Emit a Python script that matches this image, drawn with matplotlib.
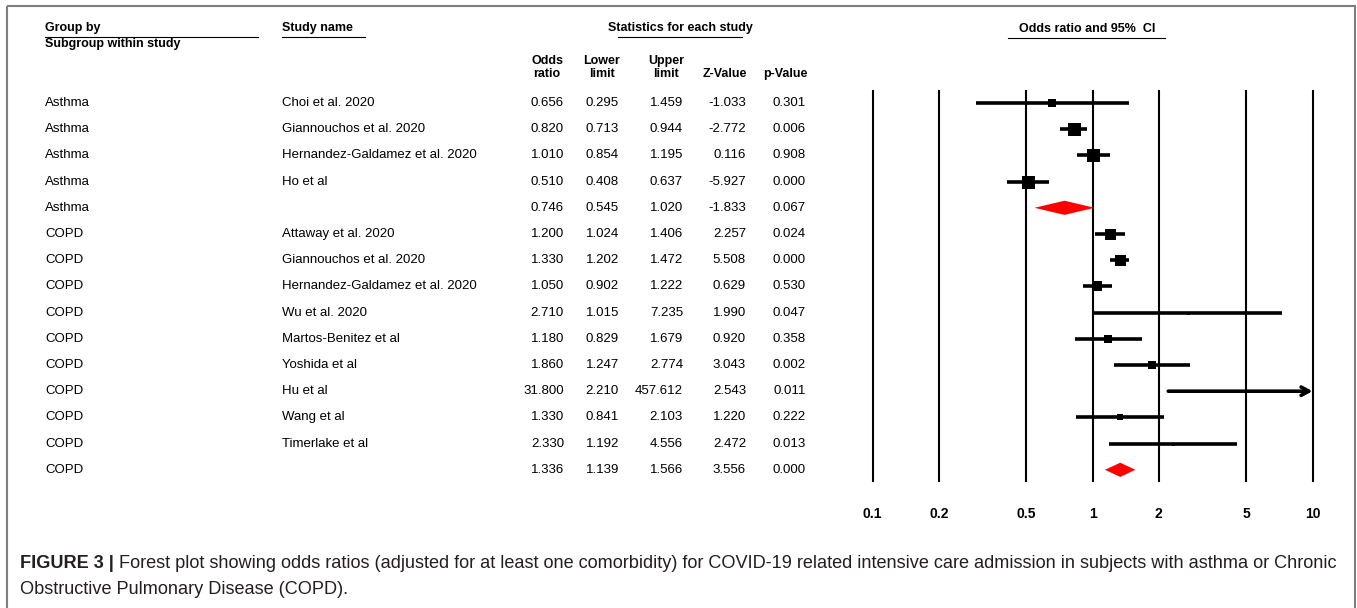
import matplotlib
matplotlib.use('Agg')
import matplotlib.pyplot as plt
from matplotlib.patches import Polygon, Rectangle
from matplotlib.transforms import blended_transform_factory
from matplotlib.ticker import NullLocator

plt.rcParams['font.family'] = ['Liberation Sans', 'DejaVu Sans']

# ---------------- data ----------------
groups = ['Asthma'] * 5 + ['COPD'] * 10
studies = ['Choi et al. 2020', 'Giannouchos et al. 2020', 'Hernandez-Galdamez et al. 2020', 'Ho et al', '',
           'Attaway et al. 2020', 'Giannouchos et al. 2020', 'Hernandez-Galdamez et al. 2020', 'Wu et al. 2020',
           'Martos-Benitez et al', 'Yoshida et al', 'Hu et al', 'Wang et al', 'Timerlake et al', '']
odds = [0.656, 0.820, 1.010, 0.510, 0.746, 1.200, 1.330, 1.050, 2.710, 1.180, 1.860, 31.800, 1.330, 2.330, 1.336]
lower = [0.295, 0.713, 0.854, 0.408, 0.545, 1.024, 1.202, 0.902, 1.015, 0.829, 1.247, 2.210, 0.841, 1.192, 1.139]
upper = [1.459, 0.944, 1.195, 0.637, 1.020, 1.406, 1.472, 1.222, 7.235, 1.679, 2.774, 457.612, 2.103, 4.556, 1.566]
zval = [-1.033, -2.772, 0.116, -5.927, -1.833, 2.257, 5.508, 0.629, 1.990, 0.920, 3.043, 2.543, 1.220, 2.472, 3.556]
pval = [0.301, 0.006, 0.908, 0.000, 0.067, 0.024, 0.000, 0.530, 0.047, 0.358, 0.002, 0.011, 0.222, 0.013, 0.000]
is_summary = [False] * 4 + [True] + [False] * 9 + [True]
tick_values = [0.1, 0.2, 0.5, 1, 2, 5, 10]
tick_labels = ['0.1', '0.2', '0.5', '1', '2', '5', '10']

# style: square side (px) per study (relative weight)
box_px = [7.5, 13, 13, 13, 0, 11, 11, 10, 3, 8, 7.5, 0, 6.5, 3, 0]

W, H = 1357, 608
fig = plt.figure(figsize=(W / 100, H / 100), dpi=100)
fig.patch.set_facecolor('white')

# overlay axes in pixel coordinates for table text / frame
tab = fig.add_axes([0, 0, 1, 1], zorder=0)
tab.set_xlim(0, W)
tab.set_ylim(H, 0)
tab.axis('off')

# forest axes
x_left, x_right = 872.5, 1312.5
y_top, y_bot = 91, 481
row0, rowstep = 103, 26.2
ax = fig.add_axes([x_left / W, 1 - y_bot / H, (x_right - x_left) / W, (y_bot - y_top) / H], zorder=1)
ax.patch.set_alpha(0)
ax.set_xscale('log')
ax.set_xlim(tick_values[0], tick_values[-1])
ax.set_ylim((y_bot - row0) / rowstep, (y_top - row0) / rowstep)
for s in ax.spines.values():
    s.set_visible(False)
ax.set_yticks([])
ax.xaxis.set_minor_locator(NullLocator())
ax.set_xticks(tick_values)
ax.set_xticklabels(tick_labels, fontweight='bold', fontsize=10)
ax.tick_params(axis='x', length=0, pad=18.5)

for t in tick_values:
    ax.axvline(t, color='black', lw=1.5, clip_on=False, zorder=1)

xmax = tick_values[-1]
for i in range(len(odds)):
    if is_summary[i]:
        h = 0.27
        ax.add_patch(Polygon([(lower[i], i), (odds[i], i - h), (upper[i], i), (odds[i], i + h)],
                             closed=True, facecolor='#ff0000', edgecolor='none', zorder=3))
        continue
    hi = min(upper[i], xmax)
    if upper[i] > xmax:
        ax.annotate('', xy=(hi, i), xytext=(lower[i], i),
                    arrowprops=dict(arrowstyle='->,head_length=0.55,head_width=0.3', lw=2.6,
                                    color='black', shrinkA=0, shrinkB=0),
                    annotation_clip=False, zorder=3)
    else:
        ax.plot([lower[i], hi], [i, i], color='black', lw=2.6, solid_capstyle='butt', zorder=3)
    if box_px[i] > 0 and odds[i] <= xmax:
        ax.plot([odds[i]], [i], marker='s', markersize=box_px[i] * 0.72, color='black',
                markeredgewidth=0, zorder=4)

# ---------------- table ----------------
trow = blended_transform_factory(tab.transData, ax.transData)
fs = 9.5
col_right = [564, 619, 683, 746, 806]
for i in range(len(odds)):
    tab.text(45, i, groups[i], transform=trow, va='center', ha='left', fontsize=fs)
    tab.text(282, i, studies[i], transform=trow, va='center', ha='left', fontsize=fs)
    vals = [odds[i], lower[i], upper[i], zval[i], pval[i]]
    for xr, v in zip(col_right, vals):
        tab.text(xr, i, f'{v:.3f}', transform=trow, va='center', ha='right', fontsize=fs)

hfs = 9
hkw = dict(fontsize=hfs, fontweight='bold', va='center')
tab.text(45, 28, 'Group by', ha='left', **hkw)
tab.plot([45, 258], [36.5, 36.5], color='black', lw=0.8)
tab.text(45, 44.5, 'Subgroup within study', ha='left', **hkw)
tab.text(282, 28, 'Study name', ha='left', **hkw)
tab.plot([282, 365], [36.5, 36.5], color='black', lw=0.8)
tab.text(680, 28, 'Statistics for each study', ha='center', **hkw)
tab.plot([618, 742], [36.5, 36.5], color='black', lw=0.8)
tab.text(1087, 29, 'Odds ratio and 95%  CI', ha='center', **hkw)
tab.plot([1008, 1165], [37.5, 37.5], color='black', lw=0.8)

tab.text(col_right[0] - 17, 61, 'Odds', ha='center', **hkw)
tab.text(col_right[0] - 17, 74, 'ratio', ha='center', **hkw)
tab.text(col_right[1] - 17, 61, 'Lower', ha='center', **hkw)
tab.text(col_right[1] - 17, 74, 'limit', ha='center', **hkw)
tab.text(col_right[2] - 17, 61, 'Upper', ha='center', **hkw)
tab.text(col_right[2] - 17, 74, 'limit', ha='center', **hkw)
tab.text(col_right[3] + 1, 74, 'Z-Value', ha='right', **hkw)
tab.text(col_right[4] + 2, 74, 'p-Value', ha='right', **hkw)

# frame
tab.add_patch(Rectangle((7, 6), 1348, 700, fill=False, edgecolor='#7f7f7f', lw=1.5, clip_on=False))

# ---------------- caption ----------------
cap_color = '#231f20'
bold_part = 'FIGURE 3 |'
rest1 = ' Forest plot showing odds ratios (adjusted for at least one comorbidity) for COVID-19 related intensive care admission in subjects with asthma or Chronic'
line2 = 'Obstructive Pulmonary Disease (COPD).'
cx0, cx1 = 20, 1337
cy1, cy2 = 563, 590
csize = 12.5
fig.canvas.draw()
r = fig.canvas.get_renderer()
for _ in range(2):
    tb = tab.text(cx0, cy1, bold_part, fontsize=csize, fontweight='bold', color=cap_color, va='center', ha='left')
    bb = tb.get_window_extent(r)
    tr = tab.text(bb.x1, cy1, rest1, fontsize=csize, color=cap_color, va='center', ha='left')
    bb2 = tr.get_window_extent(r)
    width = bb2.x1 - cx0
    tb.remove(); tr.remove()
    csize *= (cx1 - cx0) / width
tb = tab.text(cx0, cy1, bold_part, fontsize=csize, fontweight='bold', color=cap_color, va='center', ha='left')
bb = tb.get_window_extent(r)
tab.text(bb.x1, cy1, rest1, fontsize=csize, color=cap_color, va='center', ha='left')
tab.text(cx0, cy2, line2, fontsize=csize, color=cap_color, va='center', ha='left')

fig.savefig('out.png', dpi=100, facecolor='white')
